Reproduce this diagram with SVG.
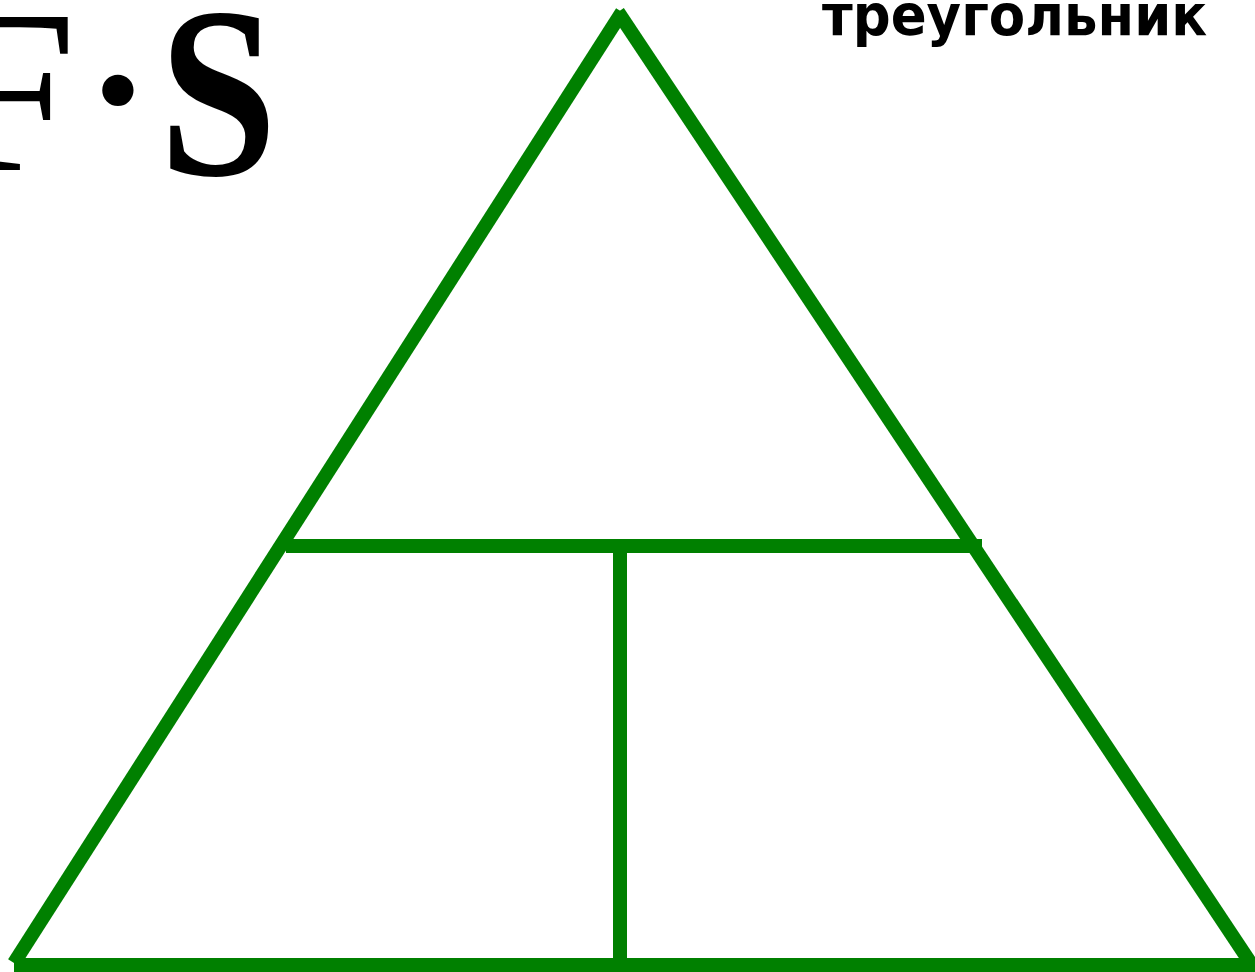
<svg xmlns="http://www.w3.org/2000/svg" width="1255" height="972" viewBox="0 0 1255 972">
<style>
.ln{stroke:#008000;stroke-width:14;fill:none;stroke-linecap:butt}
.serif{font-family:"Liberation Serif","Times New Roman",serif;fill:#000}
.title{font-family:"DejaVu Sans",sans-serif;font-weight:bold;font-size:53px;fill:#000}
</style>
<rect width="1255" height="972" fill="#fff"/>
<g id="formula">
<text class="serif" x="-54" y="170" font-size="234">F</text>
<text class="serif" x="118" y="154" font-size="193" font-weight="bold" text-anchor="middle">·</text>
<text class="serif" font-size="244" font-weight="bold" transform="translate(166,175) scale(0.87,1)" x="-8" y="0">S</text>
</g>
<g id="title"><text class="title" transform="translate(822,35) scale(1,1.06)" x="0" y="0">треугольник</text></g>
<g id="connectors">
<line class="ln" x1="14" y1="963" x2="622" y2="12"/>
<line class="ln" x1="618" y1="12" x2="1250" y2="962"/>
<line class="ln" x1="286" y1="546" x2="982" y2="546"/>
<line class="ln" x1="620" y1="546" x2="620" y2="965"/>
<line class="ln" x1="14" y1="965" x2="1255" y2="965"/>
</g>
</svg>
